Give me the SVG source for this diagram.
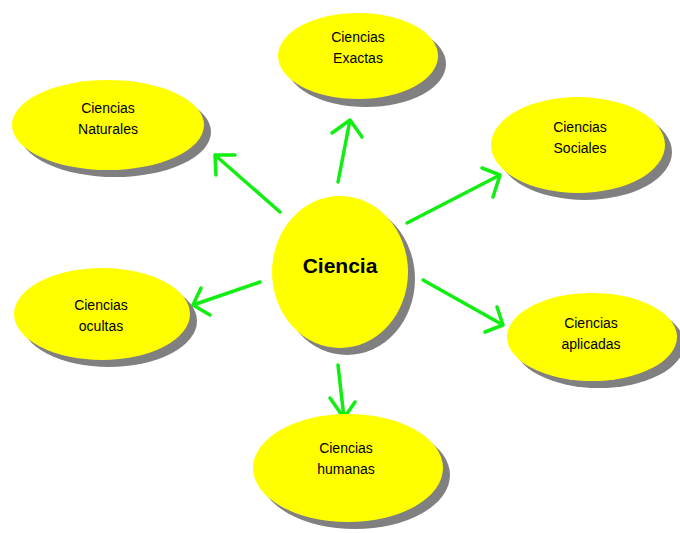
<svg xmlns="http://www.w3.org/2000/svg" width="680" height="533" viewBox="0 0 680 533">
<style>
.sh{fill:#808080}
.nd{fill:#ffff00}
.t{font-family:"Liberation Sans",Arial,sans-serif;font-size:14px;fill:#000;text-anchor:middle}
.tb{font-family:"Liberation Sans",Arial,sans-serif;font-size:21px;font-weight:bold;fill:#000;text-anchor:middle}
.ar{fill:none;stroke:#11ee11;stroke-width:3.5;stroke-linecap:round;stroke-linejoin:round}
</style>
<rect width="680" height="533" fill="#fff"/>
<g id="connectors">
<path class="ar" d="M338,182 L350,120 M332,133 L350,120 L362,137"/>
<path class="ar" d="M280,212 L215,155 M235,155 L215,155 L216,175"/>
<path class="ar" d="M407,223 L500,175 M482,168 L500,175 L493,197"/>
<path class="ar" d="M260,282 L193,305 M201,288 L193,305 L210,315"/>
<path class="ar" d="M423,280 L503,325 M497,307 L503,325 L485,332"/>
<path class="ar" d="M338,365 L344,418 M330,398 L344,418 L355,402"/>
</g>
<g id="ciencia">
<ellipse class="sh" cx="347" cy="279" rx="68" ry="76"/>
<ellipse class="nd" cx="340" cy="272" rx="68" ry="76"/>
<text class="tb" x="340" y="273">Ciencia</text>
</g>
<g id="exactas">
<ellipse class="sh" cx="366" cy="64" rx="80" ry="43"/>
<ellipse class="nd" cx="358" cy="56" rx="80" ry="43"/>
<text class="t" x="358" y="42">Ciencias</text>
<text class="t" x="358" y="63">Exactas</text>
</g>
<g id="naturales">
<ellipse class="sh" cx="115" cy="132" rx="96" ry="45"/>
<ellipse class="nd" cx="108" cy="125" rx="96" ry="45"/>
<text class="t" x="108" y="113">Ciencias</text>
<text class="t" x="108" y="134">Naturales</text>
</g>
<g id="sociales">
<ellipse class="sh" cx="585" cy="152" rx="87" ry="48"/>
<ellipse class="nd" cx="578" cy="145" rx="87" ry="48"/>
<text class="t" x="580" y="132">Ciencias</text>
<text class="t" x="580" y="153">Sociales</text>
</g>
<g id="ocultas">
<ellipse class="sh" cx="109" cy="321" rx="88" ry="46"/>
<ellipse class="nd" cx="102" cy="314" rx="88" ry="46"/>
<text class="t" x="101" y="310">Ciencias</text>
<text class="t" x="101" y="331">ocultas</text>
</g>
<g id="aplicadas">
<ellipse class="sh" cx="599" cy="344" rx="85" ry="44"/>
<ellipse class="nd" cx="592" cy="337" rx="85" ry="44"/>
<text class="t" x="591" y="328">Ciencias</text>
<text class="t" x="591" y="349">aplicadas</text>
</g>
<g id="humanas">
<ellipse class="sh" cx="355" cy="475" rx="95" ry="54"/>
<ellipse class="nd" cx="348" cy="468" rx="95" ry="54"/>
<text class="t" x="346" y="453">Ciencias</text>
<text class="t" x="346" y="474">humanas</text>
</g>
</svg>
